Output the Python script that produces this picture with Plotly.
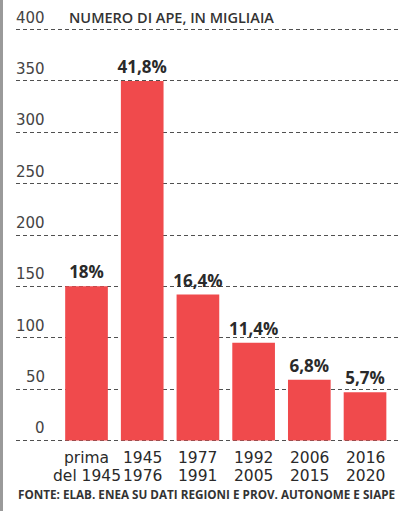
import plotly.graph_objects as go

# ---- data ----
cat_line1 = ["prima", "1945", "1977", "1992", "2006", "2016"]
cat_line2 = ["del 1945", "1976", "1991", "2005", "2015", "2020"]
values = [150, 350, 142, 95, 59, 47]
pct_labels = ["18%", "41,8%", "16,4%", "11,4%", "6,8%", "5,7%"]
y_ticks = [0, 50, 100, 150, 200, 250, 300, 350, 400]
title_text = "NUMERO DI APE, IN MIGLIAIA"
source_text = "FONTE: ELAB. ENEA SU DATI REGIONI E PROV. AUTONOME E SIAPE"

W, H = 403, 511
ML, MR, MT, MB = 16, 3, 28, 69
PW = W - ML - MR
PH = H - MT - MB
ZERO_PX = 440.5  # pixel row of value 0 (for placing labels below the axis)

BAR_COLOR = "#F04A4C"
TXT = "#2a2a2a"

xs = list(range(len(values)))

fig = go.Figure()
fig.add_trace(go.Bar(
    x=xs, y=values, width=0.766,
    marker=dict(color=BAR_COLOR, line=dict(width=0)),
    text=pct_labels, textposition="outside", constraintext="none",
    textfont=dict(family="Open Sans", size=17, color=TXT, weight="bold"),
    cliponaxis=False,
    hoverinfo="skip",
))

bottom_px = H - MB  # bottom of plot area


def below(px):
    """paper y coordinate for a pixel row below the plot area"""
    return (bottom_px - px) / PH


annotations = []
# y tick labels, right-aligned, sitting above each gridline
for v in y_ticks:
    annotations.append(dict(
        x=(47 - ML) / PW, xref="paper", xanchor="right",
        y=v, yref="y", yanchor="middle", yshift=12,
        text=str(v), showarrow=False,
        font=dict(family="DejaVu Sans", size=15, color="#444444"),
    ))
# chart subtitle on the top gridline
annotations.append(dict(
    x=(67 - ML) / PW, xref="paper", xanchor="left",
    y=y_ticks[-1], yref="y", yanchor="middle", yshift=12,
    text=title_text, showarrow=False,
    font=dict(family="Open Sans", size=14.5, color="#333333", weight=600),
))
# category labels (two tight lines)
for i, (a, b) in enumerate(zip(cat_line1, cat_line2)):
    annotations.append(dict(
        x=i, xref="x", xanchor="center",
        y=below(457.5), yref="paper", yanchor="middle",
        text=a, showarrow=False, borderpad=0,
        font=dict(family="DejaVu Sans", size=15.5, color=TXT),
    ))
    annotations.append(dict(
        x=i, xref="x", xanchor="center",
        y=below(476), yref="paper", yanchor="middle",
        text=b, showarrow=False, borderpad=0,
        font=dict(family="DejaVu Sans", size=15.5, color=TXT),
    ))
# source
annotations.append(dict(
    x=0, xref="paper", xanchor="left",
    y=below(494.5), yref="paper", yanchor="middle",
    text=source_text, showarrow=False,
    font=dict(family="Open Sans", size=11.7, color="#333333", weight="bold"),
))

fig.update_layout(
    width=W, height=H,
    margin=dict(l=ML, r=MR, t=MT, b=MB, pad=0),
    paper_bgcolor="white", plot_bgcolor="white",
    showlegend=False,
    annotations=annotations,
    shapes=[dict(
        type="rect", xref="paper", yref="paper",
        x0=-ML / PW, x1=-(ML - 3) / PW,
        y0=-MB / PH, y1=1 + MT / PH,
        fillcolor="#9a9a9a", line=dict(width=0), layer="above",
    )],
    xaxis=dict(
        range=[-1.266, 5.628], showticklabels=False, showgrid=False,
        zeroline=False, showline=False, ticks="", fixedrange=True,
    ),
    yaxis=dict(
        range=[-1.5, 401.5], tickvals=y_ticks, showticklabels=False,
        showgrid=True, gridcolor="#505050", gridwidth=1.3, griddash="4px,3px",
        zeroline=False, showline=False, ticks="", fixedrange=True,
        layer="below traces",
    ),
    bargap=0.234,
)

fig.write_html("out.html")
